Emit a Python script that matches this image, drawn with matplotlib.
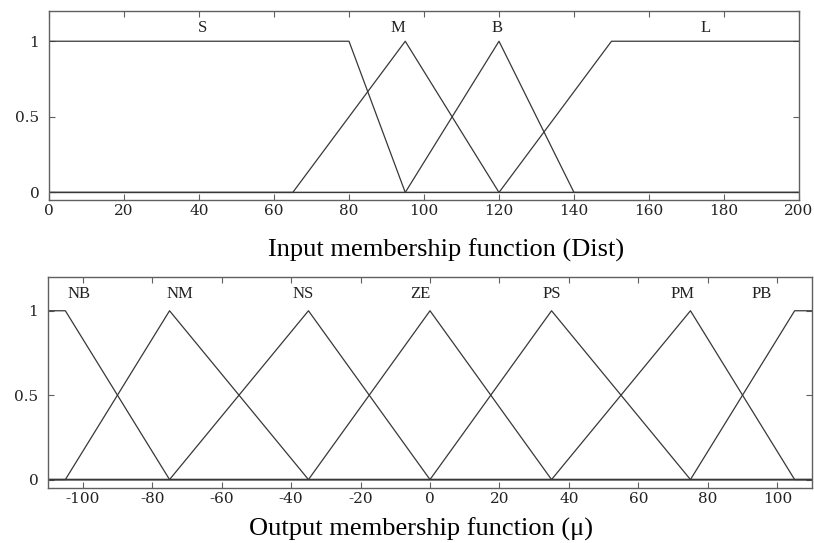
import numpy as np
import matplotlib
matplotlib.use("Agg")
import matplotlib.pyplot as plt

plt.rcParams['font.family'] = ['Liberation Serif', 'DejaVu Serif']
plt.rcParams['axes.unicode_minus'] = False

# input variable (Dist): breakpoints of each membership function
dist_range = [0, 200]
dist_names = ["S", "M", "B", "L"]
dist_x = [
    [0, 80, 95, 200],
    [0, 65, 95, 120, 200],
    [0, 95, 120, 140, 200],
    [0, 120, 150, 200],
]
dist_mu = [
    [1, 1, 0, 0],
    [0, 0, 1, 0, 0],
    [0, 0, 1, 0, 0],
    [0, 0, 1, 1],
]
dist_label_x = [41, 93, 119.5, 175]

# output variable (mu)
out_range = [-110, 110]
out_names = ["NB", "NM", "NS", "ZE", "PS", "PM", "PB"]
out_x = [
    [-110, -105, -75, 110],
    [-110, -105, -75, -35, 110],
    [-110, -75, -35, 0, 110],
    [-110, -35, 0, 35, 110],
    [-110, 0, 35, 75, 110],
    [-110, 35, 75, 105, 110],
    [-110, 75, 105, 110],
]
out_mu = [
    [1, 1, 0, 0],
    [0, 0, 1, 0, 0],
    [0, 0, 1, 0, 0],
    [0, 0, 1, 0, 0],
    [0, 0, 1, 0, 0],
    [0, 0, 1, 0, 0],
    [0, 0, 1, 1],
]
out_label_x = [-101, -72, -36.5, -2.8, 35, 72.6, 95.5]

line_col = "#383838"
frame_col = "#606060"


def style_axes(ax, xlim, xticks):
    ax.set_xlim(xlim)
    ax.set_ylim(-0.05, 1.2)
    ax.set_xticks(xticks)
    ax.set_yticks([0, 0.5, 1])
    ax.set_yticklabels(["0", "0.5", "1"])
    ax.tick_params(direction="in", top=True, right=True, length=4.5,
                   width=0.8, color=frame_col, labelsize=11,
                   labelcolor="#222222", labelfontfamily="DejaVu Serif")
    ax.tick_params(axis="x", pad=3)
    ax.tick_params(axis="y", pad=7)
    for s in ax.spines.values():
        s.set_color(frame_col)
        s.set_linewidth(1.0)


def draw_mfs(ax, xs, mus, names, label_x, label_y):
    for x, mu in zip(xs, mus):
        ax.plot(x, mu, color=line_col, lw=0.9)
    for name, lx in zip(names, label_x):
        ax.text(lx, label_y, name, ha="center", va="center", fontsize=12,
                color="#222222")


fig = plt.figure(figsize=(8.14, 5.43), dpi=100)

ax1 = fig.add_axes([49 / 814, 1 - 200 / 543, 750 / 814, 189 / 543])
draw_mfs(ax1, dist_x, dist_mu, dist_names, dist_label_x, 1.085)
style_axes(ax1, dist_range, np.arange(0, 201, 20))
ax1.set_xlabel("Input membership function (Dist)", fontsize=19, labelpad=0)
ax1.xaxis.set_label_coords(0.53, -0.205)

ax2 = fig.add_axes([48 / 814, 1 - 488 / 543, 764 / 814, 211 / 543])
draw_mfs(ax2, out_x, out_mu, out_names, out_label_x, 1.1)
style_axes(ax2, out_range, np.arange(-100, 101, 20))
ax2.set_xlabel("Output membership function (\u03bc)", fontsize=19, labelpad=0)
ax2.xaxis.set_label_coords(0.488, -0.14)

fig.savefig("out.png", dpi=100)
